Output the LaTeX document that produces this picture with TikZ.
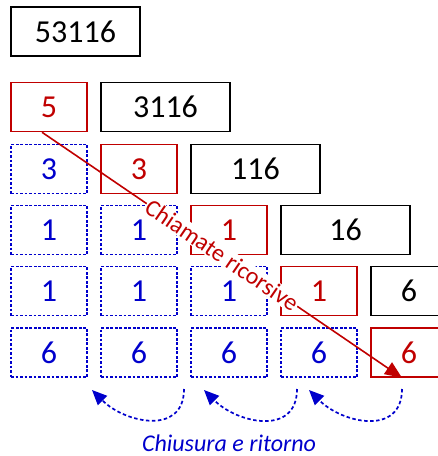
\documentclass[tikz,border=0pt]{standalone}
\usepackage{fontspec}
\setmainfont{Carlito}
\usetikzlibrary{arrows.meta,calc}
\definecolor{myred}{RGB}{192,0,0}
\definecolor{myblue}{RGB}{0,0,204}
\begin{document}
\begin{tikzpicture}[x=1pt,y=1pt,
  base/.style={minimum height=49pt,inner sep=0pt,font=\fontsize{32}{36}\selectfont,line width=1.5pt},
  small/.style={base,minimum width=76pt},
  big/.style={base,minimum width=129pt},
  blk/.style={draw=black,text=black},
  cur/.style={draw=myred,text=myred},
  done/.style={draw=myblue,text=myblue,dash pattern=on 2.6pt off 1.9pt,line width=1.7pt},
  ret/.style={draw=myblue,line width=1.7pt,dash pattern=on 3.5pt off 2.5pt,-{Triangle[length=15pt,width=13pt]}},
  call/.style={draw=myred,line width=1.6pt,-{Triangle[length=17pt,width=14pt]}},
  lab/.style={font=\fontsize{24}{28}\selectfont}
]
\useasboundingbox (0,0) rectangle (438,-456);
% row 0
\node[big,blk] (n0) at (75.5,-31.5) {53116};
% row 1
\node[small,cur] (a1) at (49,-107) {5};
\node[big,blk] (b1) at (165.5,-107) {3116};
% row 2
\node[small,done] (a2) at (49,-169) {3};
\node[small,cur] (b2) at (139,-169) {3};
\node[big,blk] (c2) at (255.5,-169) {116};
% row 3
\node[small,done] (a3) at (49,-230) {1};
\node[small,done] (b3) at (139,-230) {1};
\node[small,cur] (c3) at (229,-230) {1};
\node[big,blk] (d3) at (345.5,-230) {16};
% row 4
\node[small,done] (a4) at (49,-291) {1};
\node[small,done] (b4) at (139,-291) {1};
\node[small,done] (c4) at (229,-291) {1};
\node[small,cur] (d4) at (319,-291) {1};
\node[small,blk] (e4) at (409,-291) {6};
% row 5
\node[small,done] (a5) at (49,-352.5) {6};
\node[small,done] (b5) at (139,-352.5) {6};
\node[small,done] (c5) at (229,-352.5) {6};
\node[small,done] (d5) at (319,-352.5) {6};
\node[small,cur] (e5) at (409,-352.5) {6};
% recursive calls arrow
\coordinate (cs) at ($(a1.south)+(-7,0)$);
\coordinate (ce) at ($(e5.south)+(-7,0)$);
\draw[call] (cs) -- node[sloped,fill=white,inner sep=1pt,lab,text=myred] (clab) {Chiamate ricorsive} (ce);
% return arrows
\coordinate (s1) at (184,-389);
\coordinate (t1) at (92,-390);
\coordinate (s2) at (297,-389);
\coordinate (t2) at (204,-390);
\coordinate (s3) at (402,-389);
\coordinate (t3) at (309,-390);
\draw[ret] (s1) to[out=-90,in=-45,looseness=1.3] (t1);
\draw[ret] (s2) to[out=-90,in=-45,looseness=1.3] (t2);
\draw[ret] (s3) to[out=-90,in=-45,looseness=1.3] (t3);
\node[lab,text=myblue,font=\fontsize{24}{28}\selectfont\itshape] (rlab) at (229,-443) {Chiusura e ritorno};
\end{tikzpicture}
\end{document}
